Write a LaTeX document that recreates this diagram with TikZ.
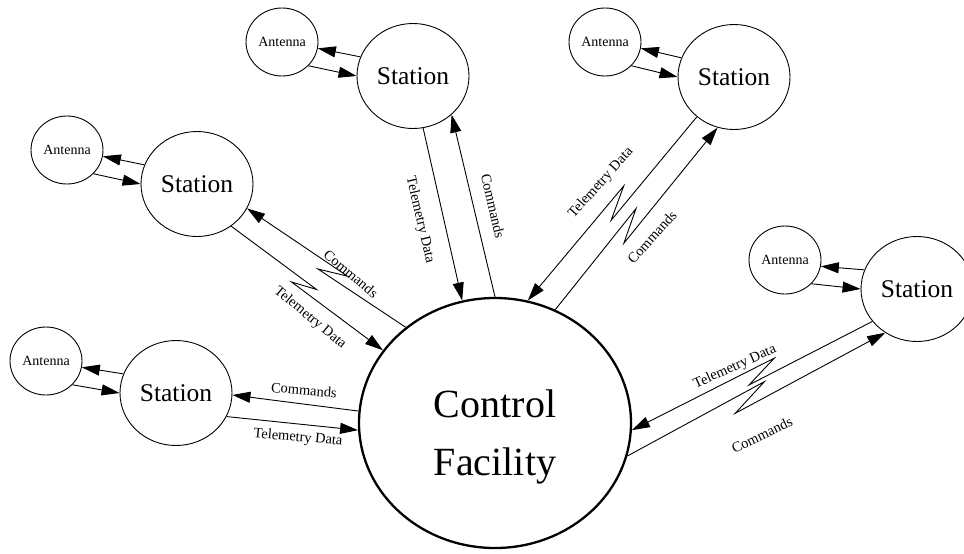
\documentclass[tikz,border=0pt]{standalone}
\usepackage{fontspec}
\setmainfont{Liberation Serif}
\usetikzlibrary{shapes.geometric,arrows.meta,calc}
\newcommand\zzlink[6]{%
  \path ($(#1)!#3!(#2)$) coordinate (zzM);
  \path ($(zzM)!#4!(#2)$) coordinate (zzF);
  \path ($(zzM)!#4!(#1)$) coordinate (zzB);
  \path ($(zzF)!#5!90:(#2)$) coordinate (zzXa);
  \path ($(zzB)!#5!90:(#1)$) coordinate (zzXb);
  \draw[lnk,#6] (#1) -- (zzXa) -- (zzXb) -- (#2);
}
\begin{document}
\begin{tikzpicture}[x=1pt,y=-1pt,
  stn/.style={ellipse,draw,line width=0.9pt,minimum width=112pt,minimum height=105pt,inner sep=0pt,font=\fontsize{25.5}{30}\selectfont},
  ant/.style={ellipse,draw,line width=0.9pt,minimum width=72pt,minimum height=68pt,inner sep=0pt,font=\fontsize{14}{16}\selectfont},
  ctl/.style={ellipse,draw,line width=2.3pt,minimum width=272pt,minimum height=250pt,inner sep=0pt},
  ctltext/.style={align=center,inner sep=0pt,font=\fontsize{40}{58}\selectfont},
  lnk/.style={line width=0.9pt},
  >={Triangle[length=18pt,width=11pt]},
  lbl/.style={font=\fontsize{14.4}{16}\selectfont,inner sep=1pt}
]
\useasboundingbox (0,0) rectangle (964,554);
% nodes
\node[ctl] (cf) at (495,423) {};
\node[ctltext] (cft) at (495,437) {Control\\Facility};
\node[stn] (s1) at (413,76) {Station};
\node[stn] (s2) at (734,77) {Station};
\node[stn] (s3) at (197,184) {Station};
\node[stn] (s4) at (176,393) {Station};
\node[stn] (s5) at (917,289) {Station};
\node[ant] (a1) at (282,42) {Antenna};
\node[ant] (a2) at (605,42) {Antenna};
\node[ant] (a3) at (67,150) {Antenna};
\node[ant] (a4) at (46,361) {Antenna};
\node[ant] (a5) at (785,260) {Antenna};
% antenna links
\foreach \s/\a in {s1/a1,s2/a2,s3/a3,s4/a4,s5/a5}{
  \draw[lnk,->] (\s.160) -- (\a.-10);
  \draw[lnk,->] (\a.-42) -- (\s.180);
}
% station 1 (straight)
\draw[lnk,->] (s1.-79.5) -- (cf.105);
\draw[lnk,<-] (s1.-45) -- (cf.90);
% station 4 (straight)
\draw[lnk,<-] (s4.-2) -- (cf.175);
\draw[lnk,->] (s4.-25) -- (cf.-177);
% station 2 (zigzag)
\zzlink{s2.-133}{cf.75}{0.47}{17pt}{7pt}{->}
\zzlink{s2.-108}{cf.62}{0.54}{17pt}{7pt}{<-}
% station 3 (zigzag)
\zzlink{s3.-26}{cf.133.5}{0.54}{14pt}{6pt}{<-}
\zzlink{s3.-51}{cf.147}{0.48}{12pt}{5pt}{->}
% station 5 (zigzag)
\zzlink{s5.-144}{cf.-3}{0.46}{17pt}{7pt}{->}
\zzlink{s5.-126}{cf.-14}{0.525}{20pt}{8pt}{<-}
% labels
\node[lbl,rotate=-77] (l1t) at (420,220) {Telemetry Data};
\node[lbl,rotate=-77] (l1c) at (493,206) {Commands};
\node[lbl,rotate=48] (l2t) at (601,183) {Telemetry Data};
\node[lbl,rotate=48] (l2c) at (652,237) {Commands};
\node[lbl,rotate=-39.7] (l3c) at (351,274) {Commands};
\node[lbl,rotate=-39.7] (l3t) at (310,318) {Telemetry Data};
\node[lbl,rotate=-5] (l4c) at (304,390) {Commands};
\node[lbl,rotate=-5] (l4t) at (298,438) {Telemetry Data};
\node[lbl,rotate=24.3] (l5t) at (735,367) {Telemetry Data};
\node[lbl,rotate=25.6] (l5c) at (762,435) {Commands};
\end{tikzpicture}
\end{document}
